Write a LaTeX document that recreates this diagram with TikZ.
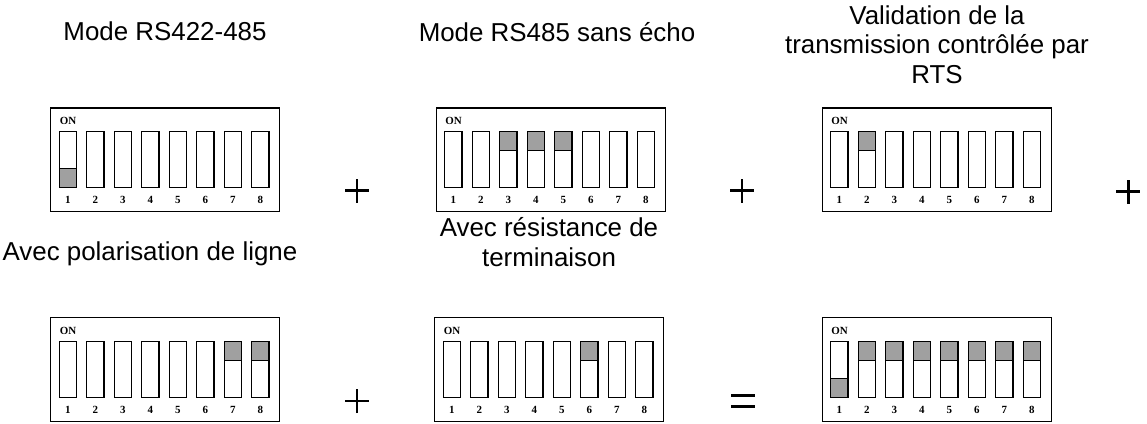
\documentclass[tikz,border=0pt]{standalone}
\usepackage{fontspec}
\setmainfont{Liberation Sans}
\newfontfamily\tnr{Liberation Serif}

\definecolor{knobgray}{RGB}{160,160,160}

\tikzset{
  dipbox/.style={draw, line width=1.2bp, inner sep=0pt, minimum width=229bp, minimum height=103.5bp, anchor=north west},
  lever/.style={draw, line width=1.4bp},
  knob/.style={fill=knobgray},
  title/.style={font=\fontsize{26}{29.5}\selectfont, align=center, inner sep=0pt, anchor=base},
  tag/.style={font=\tnr\bfseries\fontsize{11}{11}\selectfont, inner sep=0pt},
  sign/.style={line width=2.6bp},
}

% #1 name, #2 x, #3 y (top-left of the housing), #4 states: 0 none, 1 top, 2 bottom
\newcommand\dipswitch[4]{%
  \begin{scope}[shift={(#2,#3)}]
    \node[dipbox] (#1) at (0,0) {};
    \node[tag] (#1-on) at (18,13.5) {ON};
    \foreach \s [count=\i] in {#4} {
      \pgfmathsetmacro\xl{9.2+(\i-1)*27.5}
      \pgfmathsetmacro\xr{\xl+17.3}
      \ifnum\s=1
        \fill[knob] (\xl,24.2) rectangle (\xr,43.2);
        \draw[lever] (\xl,43.2) -- (\xr,43.2);
      \fi
      \ifnum\s=2
        \fill[knob] (\xl,61.2) rectangle (\xr,80.2);
        \draw[lever] (\xl,61.2) -- (\xr,61.2);
      \fi
      \draw[lever] (\xl,24.2) rectangle (\xr,80.2);
      \node[tag] (#1-n\i) at ({(\xl+\xr)/2},92.5) {\i};
    }
  \end{scope}}

% plus sign centred on a named coordinate
\newcommand\plussign[1]{%
  \draw[sign] ([xshift=-12bp]#1) -- ([xshift=12bp]#1);
  \draw[sign] ([yshift=-12bp]#1) -- ([yshift=12bp]#1);}

\begin{document}
\begin{tikzpicture}[x=1bp, y=-1bp]
  \useasboundingbox (0,0) rectangle (1147,423);

  % first row
  \node[title] (t1) at (165,40.7) {Mode RS422-485};
  \node[title] (t2) at (557,41) {Mode RS485 sans écho};
  \node[title] (t3) at (937,83) {Validation de la\\transmission contrôlée par\\RTS};

  \dipswitch{d1}{50}{107.3}{2,0,0,0,0,0,0,0}
  \dipswitch{d2}{435.5}{107.3}{0,0,1,1,1,0,0,0}
  \dipswitch{d3}{821.5}{107.3}{0,1,0,0,0,0,0,0}

  \coordinate (p1) at (357,190.7);
  \coordinate (p2) at (742,190.7);
  \coordinate (p3) at (1128.3,191.5);
  \plussign{p1}
  \plussign{p2}
  \plussign{p3}

  % second row
  \node[title] (t4) at (150,260) {Avec polarisation de ligne};
  \node[title] (t5) at (549,266) {Avec résistance de\\terminaison};

  \dipswitch{d4}{50}{317}{0,0,0,0,0,0,1,1}
  \dipswitch{d5}{434}{317}{0,0,0,0,0,1,0,0}
  \dipswitch{d6}{821.5}{317}{2,1,1,1,1,1,1,1}

  \coordinate (p4) at (357,401);
  \coordinate (q1) at (743,401);
  \plussign{p4}
  \draw[sign] ([xshift=-12bp,yshift=-5.3bp]q1) -- ([xshift=12bp,yshift=-5.3bp]q1);
  \draw[sign] ([xshift=-12bp,yshift=5.3bp]q1) -- ([xshift=12bp,yshift=5.3bp]q1);
\end{tikzpicture}
\end{document}
